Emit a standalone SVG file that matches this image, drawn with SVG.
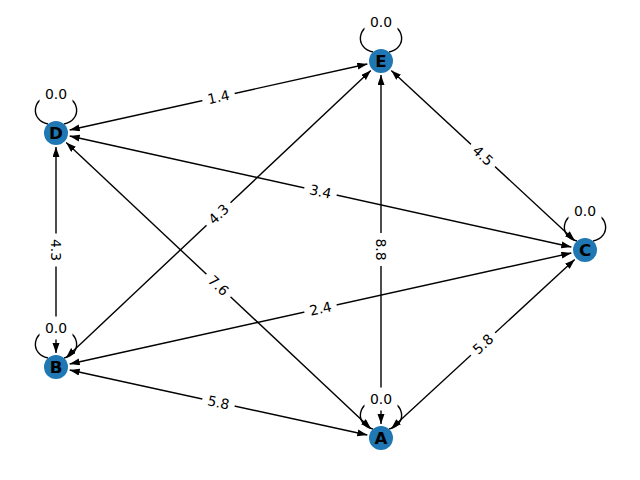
<svg xmlns="http://www.w3.org/2000/svg" xmlns:xlink="http://www.w3.org/1999/xlink" width="640" height="480" viewBox="0 0 640 480">
<style>
.edge{stroke:#000;stroke-width:1.4;fill:none;marker-start:url(#ahs);marker-end:url(#ah)}
.loop{stroke:#000;stroke-width:1.4;fill:none}
.node circle{fill:#1f77b4}
.node text{font-family:"DejaVu Sans",sans-serif;font-weight:bold;font-size:16.7px;fill:#000;text-anchor:middle;dominant-baseline:central}
.lbl text{font-family:"DejaVu Sans",sans-serif;font-size:13.9px;fill:#000;text-anchor:middle;dominant-baseline:central}
</style>
<defs>
<marker id="ah" markerUnits="userSpaceOnUse" markerWidth="11" markerHeight="8" refX="10" refY="3.5" orient="auto"><path d="M0,0 L10,3.5 L0,7 z" fill="#000"/></marker>
<marker id="ahs" markerUnits="userSpaceOnUse" markerWidth="11" markerHeight="8" refX="10" refY="3.5" orient="auto-start-reverse"><path d="M0,0 L10,3.5 L0,7 z" fill="#000"/></marker>
<path id="loopPath" fill="none" stroke="#000" stroke-width="1.4" d="M-8,-9 C-26,-12 -26,-38 0,-38 C26,-38 26,-12 8,-9"/>
<rect id="lblBox" x="-16" y="-11" width="32" height="22" rx="4" fill="#fff" stroke="#fff"/>
</defs>
<rect width="640" height="480" fill="#fff"/>
<g id="connectors">
<line class="edge" x1="69.67" y1="129.97" x2="367.33" y2="64.03"/>
<line class="edge" x1="391.27" y1="70.51" x2="574.73" y2="240.49"/>
<line class="edge" x1="69.67" y1="136.02" x2="571.33" y2="246.98"/>
<line class="edge" x1="56" y1="147" x2="56" y2="353"/>
<line class="edge" x1="66.19" y1="357.40" x2="370.81" y2="70.60"/>
<line class="edge" x1="66.21" y1="142.58" x2="370.79" y2="428.42"/>
<line class="edge" x1="69.67" y1="363.98" x2="571.33" y2="253.02"/>
<line class="edge" x1="381" y1="424" x2="381" y2="75"/>
<line class="edge" x1="391.29" y1="428.51" x2="574.71" y2="259.49"/>
<line class="edge" x1="69.68" y1="369.99" x2="367.32" y2="435.01"/>
<use xlink:href="#loopPath" x="381" y="61"/>
<use xlink:href="#loopPath" x="56" y="133"/>
<use xlink:href="#loopPath" x="585" y="250"/>
<use xlink:href="#loopPath" x="56" y="367"/>
<use xlink:href="#loopPath" x="381" y="438"/>
</g>
<g id="node-E" class="node"><circle cx="381" cy="61" r="12"/><text x="381" y="61">E</text></g>
<g id="node-D" class="node"><circle cx="56" cy="133" r="12"/><text x="56" y="133">D</text></g>
<g id="node-C" class="node"><circle cx="585" cy="250" r="12"/><text x="585" y="250">C</text></g>
<g id="node-B" class="node"><circle cx="56" cy="367" r="12"/><text x="56" y="367">B</text></g>
<g id="node-A" class="node"><circle cx="381" cy="438" r="12"/><text x="381" y="438">A</text></g>
<g id="edge-labels">
<g class="lbl" transform="translate(218.5,97) rotate(-12.49)"><use xlink:href="#lblBox"/><text>1.4</text></g>
<g class="lbl" transform="translate(483,155.5) rotate(42.81)"><use xlink:href="#lblBox"/><text>4.5</text></g>
<g class="lbl" transform="translate(320.5,191.5) rotate(12.47)"><use xlink:href="#lblBox"/><text>3.4</text></g>
<g class="lbl" transform="translate(56,250) rotate(90)"><use xlink:href="#lblBox"/><text>4.3</text></g>
<g class="lbl" transform="translate(218.5,214) rotate(-43.27)"><use xlink:href="#lblBox"/><text>4.3</text></g>
<g class="lbl" transform="translate(218.5,285.5) rotate(43.18)"><use xlink:href="#lblBox"/><text>7.6</text></g>
<g class="lbl" transform="translate(320.5,308.5) rotate(-12.47)"><use xlink:href="#lblBox"/><text>2.4</text></g>
<g class="lbl" transform="translate(381,249.5) rotate(90)"><use xlink:href="#lblBox"/><text>8.8</text></g>
<g class="lbl" transform="translate(483,344) rotate(-42.66)"><use xlink:href="#lblBox"/><text>5.8</text></g>
<g class="lbl" transform="translate(218.5,402.5) rotate(12.32)"><use xlink:href="#lblBox"/><text>5.8</text></g>
<g class="lbl" transform="translate(381,22)"><use xlink:href="#lblBox"/><text>0.0</text></g>
<g class="lbl" transform="translate(56,94)"><use xlink:href="#lblBox"/><text>0.0</text></g>
<g class="lbl" transform="translate(585,211)"><use xlink:href="#lblBox"/><text>0.0</text></g>
<g class="lbl" transform="translate(56,328)"><use xlink:href="#lblBox"/><text>0.0</text></g>
<g class="lbl" transform="translate(381,399)"><use xlink:href="#lblBox"/><text>0.0</text></g>
</g>
</svg>
